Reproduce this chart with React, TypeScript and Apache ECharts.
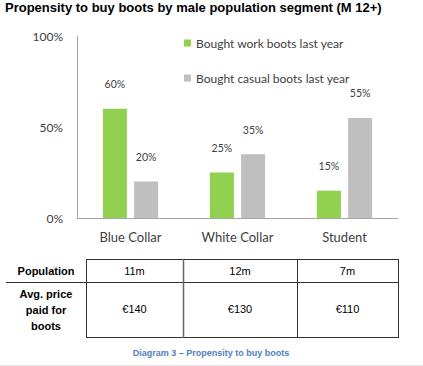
import React, { useEffect, useRef } from "react";
import * as echarts from "echarts";

const categories = ["Blue Collar", "White Collar", "Student"];
const workBoots = [60, 25, 15];
const casualBoots = [20, 35, 55];
const seriesNames = ["Bought work boots last year", "Bought casual boots last year"];
const yTicks = [0, 50, 100];
const population = ["11m", "12m", "7m"];
const avgPrice = ["€140", "€130", "€110"];
const rowLabels = ["Population", "Avg. price\npaid for\nboots"];
const titleText = "Propensity to buy boots by male population segment (M 12+)";
const captionText = "Diagram 3 – Propensity to buy boots";

const W = 423;
const H = 366;

export default function App() {
  const ref = useRef<HTMLDivElement>(null);
  useEffect(() => {
    if (!ref.current) return;
    const chart = echarts.init(ref.current, null, { renderer: "svg", width: W, height: H });
    const font = "Lato, 'Open Sans', sans-serif";
    const arial = "'Liberation Sans', Arial, sans-serif";
    const lineColor = "#333333";
    // table geometry
    const colX = [86, 183, 297, 398];
    const rowY = [259, 282, 337];
    const graphics: any[] = [];
    const ln = (x1: number, y1: number, x2: number, y2: number, stroke = lineColor, w = 1) =>
      graphics.push({ type: "line", shape: { x1, y1, x2, y2 }, style: { stroke, lineWidth: w }, silent: true });
    ln(colX[0], rowY[0] + 0.5, colX[3], rowY[0] + 0.5);
    ln(6, rowY[1] + 0.5, colX[3], rowY[1] + 0.5);
    ln(colX[0], rowY[2] + 0.5, colX[3], rowY[2] + 0.5);
    colX.forEach((x, i) => ln(x + 0.5, rowY[0], x + 0.5, rowY[2] + 1, i === 1 ? "#666" : lineColor, i === 1 ? 1.5 : 1));
    const cellText = (text: string, x: number, y: number, bold: boolean, lh = 16) =>
      graphics.push({
        type: "text",
        x,
        y,
        silent: true,
        style: {
          text,
          x: 0,
          y: 0,
          align: "center",
          verticalAlign: "middle",
          fill: "#000",
          font: `${bold ? "bold " : ""}11px ${arial}`,
          lineHeight: lh,
        },
      });
    cellText(rowLabels[0], 46, 270.5, true);
    cellText(rowLabels[1], 46, 309.5, true);
    population.forEach((p, i) => cellText(p, (colX[i] + colX[i + 1]) / 2, 270.5, false));
    avgPrice.forEach((p, i) => cellText(p, (colX[i] + colX[i + 1]) / 2, 308.5, false));
    graphics.push({
      type: "text",
      x: 211,
      y: 353,
      silent: true,
      style: {
        text: captionText,
        x: 0,
        y: 0,
        align: "center",
        verticalAlign: "middle",
        fill: "#4f81bd",
        font: `bold 9px ${arial}`,
      },
    });
    ln(0, 365.5, W, 365.5, "#e6e6e6", 1);

    const labelCfg = {
      show: true,
      position: "top",
      distance: 19,
      formatter: "{c}%",
      color: "#404040",
      fontSize: 10.5,
      fontFamily: font,
    };

    chart.setOption({
      animation: false,
      backgroundColor: "#ffffff",
      title: {
        text: titleText,
        left: 5,
        top: 0,
        padding: 0,
        textStyle: { fontFamily: arial, fontWeight: "bold", fontSize: 13, color: "#000", lineHeight: 14 },
      },
      legend: {
        orient: "vertical",
        left: 179,
        top: 31,
        itemWidth: 7,
        itemHeight: 7,
        itemGap: 21,
        icon: "rect",
        data: seriesNames,
        textStyle: { fontFamily: font, fontSize: 12, color: "#404040", lineHeight: 14 },
      },
      grid: { left: 77, right: 25, top: 36, bottom: 148, containLabel: false },
      xAxis: {
        type: "category",
        data: categories,
        axisLine: { show: true, lineStyle: { color: "#a6a6a6", width: 1 } },
        axisTick: { show: false },
        axisLabel: { margin: 12, color: "#404040", fontSize: 13, fontFamily: font },
      },
      yAxis: {
        type: "value",
        min: yTicks[0],
        max: yTicks[yTicks.length - 1],
        interval: yTicks[1] - yTicks[0],
        axisLine: { show: true, lineStyle: { color: "#a6a6a6", width: 1 } },
        axisTick: { show: false },
        splitLine: { show: false },
        axisLabel: { margin: 14, color: "#404040", fontSize: 12, fontFamily: font, formatter: "{value}%" },
      },
      series: [
        {
          name: seriesNames[0],
          type: "bar",
          data: workBoots,
          barWidth: 24,
          barGap: "30%",
          itemStyle: { color: "#92d050" },
          label: labelCfg,
        },
        {
          name: seriesNames[1],
          type: "bar",
          data: casualBoots,
          barWidth: 24,
          itemStyle: { color: "#bfbfbf" },
          label: labelCfg,
        },
      ],
      graphic: graphics,
    });
    return () => chart.dispose();
  }, []);
  return <div ref={ref} style={{ position: "fixed", left: 0, top: 0, width: W, height: H }} />;
}
